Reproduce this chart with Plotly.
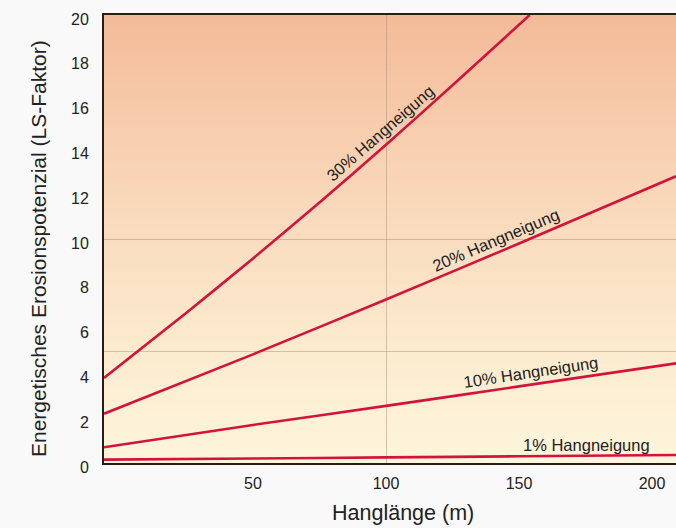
import plotly.graph_objects as go

# ---- data ----
x_30 = [-6, 25, 50, 75, 100, 125, 154]
ls_30 = [3.8, 6.71, 9.13, 11.63, 14.21, 16.86, 20.0]

x_common = [-6, 50, 100, 150, 209]
ls_20 = [2.2, 4.85, 7.3, 9.8, 12.8]
ls_10 = [0.7, 1.7, 2.55, 3.42, 4.45]
ls_1 = [0.15, 0.2, 0.25, 0.3, 0.36]

label_texts = ["30% Hangneigung", "20% Hangneigung", "10% Hangneigung", "1% Hangneigung"]
label_x = [97.8, 141.2, 154.5, 175.5]
label_y = [14.75, 9.95, 4.05, 0.8]
label_angle = [-41, -23, -8.5, 0]

x_tickvals = [50, 100, 150, 200]
y_tickvals = [0, 2, 4, 6, 8, 10, 12, 14, 16, 18, 20]

x_title = "Hanglänge (m)"
y_title = "Energetisches Erosionspotenzial (LS-Faktor)"

LINE_COLOR = "#d3133b"
FONT = "Liberation Sans, Arial, sans-serif"

W, H = 676, 528
ML, MR, MT, MB = 104, 0, 15, 65
PW, PH = W - ML - MR, H - MT - MB

fig = go.Figure()
for xs, ys in [(x_30, ls_30), (x_common, ls_20), (x_common, ls_10), (x_common, ls_1)]:
    fig.add_trace(go.Scatter(x=xs, y=ys, mode="lines",
                             line=dict(color=LINE_COLOR, width=2.6, shape="spline", smoothing=0.6),
                             hoverinfo="skip", showlegend=False))

for t, lx, ly, ang in zip(label_texts, label_x, label_y, label_angle):
    fig.add_annotation(x=lx, y=ly, text=t, showarrow=False, textangle=ang,
                       font=dict(family=FONT, size=16.5, color="#222222"))

# axis titles placed as paper annotations (pixel positions from the reference)
fig.add_annotation(xref="paper", yref="paper", x=(403 - ML) / PW, y=(H - MB - 513) / PH,
                   text=x_title, showarrow=False, xanchor="center", yanchor="middle",
                   font=dict(family=FONT, size=21.5, color="#222222"))
fig.add_annotation(xref="paper", yref="paper", x=(38 - ML) / PW, y=(H - MB - 249) / PH,
                   text=y_title, showarrow=False, textangle=-90, xanchor="center", yanchor="middle",
                   font=dict(family=FONT, size=21, color="#222222"))

# background gradient (bottom cream -> top salmon)
stops = [(0.0, (253, 245, 220)), (0.25, (252, 235, 206)), (0.5, (250, 221, 192)),
         (0.75, (247, 205, 173)), (1.0, (243, 186, 152))]

def interp(t):
    for (t0, c0), (t1, c1) in zip(stops[:-1], stops[1:]):
        if t0 <= t <= t1:
            f = (t - t0) / (t1 - t0)
            return "rgb(%d,%d,%d)" % tuple(round(a + (b - a) * f) for a, b in zip(c0, c1))
    return "rgb(%d,%d,%d)" % stops[-1][1]

N = 90
shapes = []
for i in range(N):
    y0 = i / N
    y1 = min(1.0, (i + 1) / N + 0.004)
    shapes.append(dict(type="rect", xref="paper", yref="paper", x0=0, x1=1, y0=y0, y1=y1,
                       fillcolor=interp((i + 0.5) / N), line=dict(width=0), layer="below"))

GRID = "rgba(165,140,110,0.45)"
fig.update_layout(
    width=W, height=H,
    margin=dict(l=ML, r=MR, t=MT, b=MB, autoexpand=False),
    paper_bgcolor="#f9f9f9",
    plot_bgcolor="rgba(0,0,0,0)",
    shapes=shapes,
    font=dict(family=FONT, color="#222222"),
    xaxis=dict(range=[-6, 209], tickvals=x_tickvals, showgrid=False, zeroline=False,
               automargin=False,
               showline=True, mirror=True, linecolor="#2a1d14", linewidth=2,
               ticks="", ticklabelstandoff=5, tickfont=dict(size=16, color="#222222"),
               minor=dict(tickvals=[100], showgrid=True, gridcolor=GRID, gridwidth=1, ticks="")),
    yaxis=dict(range=[0, 20], tickvals=y_tickvals, showgrid=False, zeroline=False,
               automargin=False,
               showline=True, linecolor="#2a1d14", linewidth=2,
               ticks="", ticklabelstandoff=10, ticklabelshift=4,
               tickfont=dict(size=16, color="#222222"),
               minor=dict(tickvals=[5, 10], showgrid=True, gridcolor=GRID, gridwidth=1, ticks="")),
)

fig.write_html("out.html", config={"displayModeBar": False},
               post_script="document.body.style.margin='0';document.body.style.overflow='hidden';")
